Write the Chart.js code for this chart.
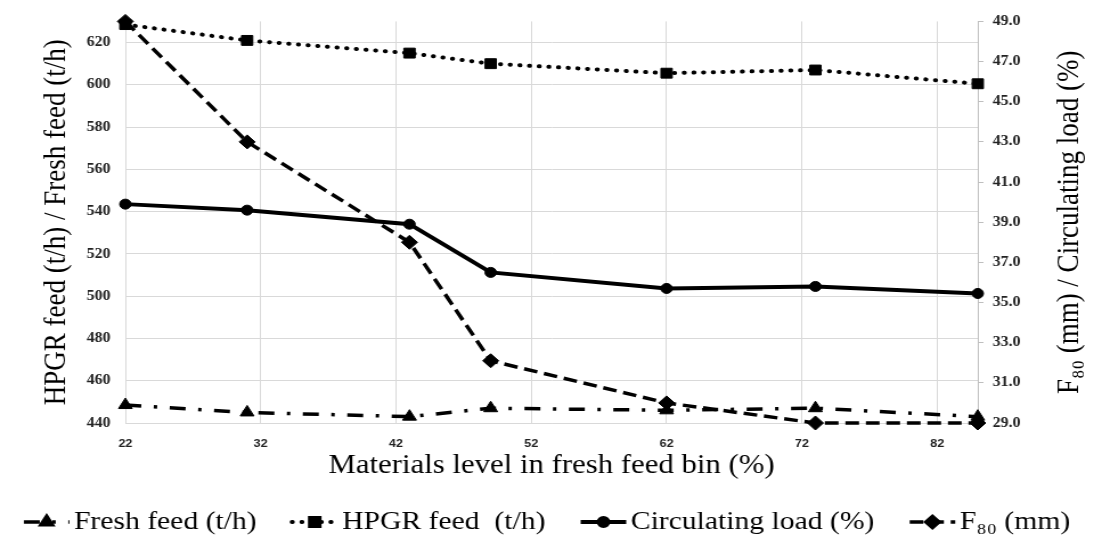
<!DOCTYPE html>
<html>
<head>
<meta charset="utf-8">
<script src="https://cdn.jsdelivr.net/npm/chart.js@4.4.1/dist/chart.umd.min.js"></script>
<style>
  html, body { margin: 0; background: #fff; overflow: hidden; }
  /* the source figure is a little wider than tall, so the canvas is stretched sideways */
  #chart { transform: scaleX(1.1396); transform-origin: 0 0; }
</style>
</head>
<body>
<canvas id="chart" width="960" height="541"></canvas>
<script>
const levels = [22, 31, 43, 49, 62, 73, 85];
const freshFeed = [448.5, 445, 443, 447, 446, 447, 443];
const hpgrFeed = [628.5, 621, 615, 610, 605.5, 607, 600.5];
const circulatingLoad = [39.9, 39.6, 38.9, 36.5, 35.7, 35.8, 35.45];
const f80 = [49.0, 43.0, 38.0, 32.1, 30.0, 29.0, 29.0];

const xTicks = [22, 32, 42, 52, 62, 72, 82];
const leftTicks = [440, 460, 480, 500, 520, 540, 560, 580, 600, 620];
const rightTicks = [29, 31, 33, 35, 37, 39, 41, 43, 45, 47, 49];

const serif = '"Liberation Serif", "Times New Roman", serif';
const grid = "#d9d9d9";
const rightTitleText = "F\u2088\u2080 (mm) / Circulating load (%)";

const toPoints = (ys) => levels.map((x, i) => ({ x, y: ys[i] }));

// short piece of a series line with its marker, used by the legend
function drawSample(ctx, ds, x, y, w) {
  ctx.save();
  ctx.strokeStyle = "#000";
  ctx.fillStyle = "#000";
  ctx.lineWidth = ds.borderWidth;
  ctx.lineCap = ds.borderCapStyle || "butt";
  ctx.setLineDash(ds.borderDash || []);
  ctx.beginPath();
  ctx.moveTo(x, y);
  ctx.lineTo(x + w, y);
  ctx.stroke();
  ctx.setLineDash([]);
  Chart.helpers.drawPoint(ctx, { pointStyle: ds.pointStyle, radius: ds.pointRadius * 0.8, borderWidth: 1 }, x + w / 2, y);
  ctx.restore();
}

const bottomLegend = {
  id: "bottomLegend",
  afterDraw(chart) {
    const { ctx } = chart;
    const sets = chart.data.datasets;
    const sampleW = 40, gapIn = 4, gapOut = 31;
    ctx.save();
    ctx.font = "26px " + serif;
    const widths = sets.map((d) => sampleW + gapIn + ctx.measureText(d.label).width);
    const total = widths.reduce((a, b) => a + b, 0) + gapOut * (sets.length - 1);
    let x = (chart.width - total) / 2;
    const y = chart.height - 19;
    sets.forEach((d, i) => {
      drawSample(ctx, d, x, y, sampleW);
      ctx.fillStyle = "#000";
      ctx.textAlign = "left";
      ctx.textBaseline = "middle";
      ctx.fillText(d.label, x + sampleW + gapIn, y);
      x += widths[i] + gapOut;
    });
    ctx.restore();
  },
};

const rightTitle = {
  id: "rightTitle",
  afterDraw(chart) {
    const { ctx, chartArea } = chart;
    ctx.save();
    ctx.translate(chart.width - 21, (chartArea.top + chartArea.bottom) / 2);
    ctx.rotate(-Math.PI / 2);
    ctx.font = "27px " + serif;
    ctx.fillStyle = "#000";
    ctx.textAlign = "center";
    ctx.textBaseline = "middle";
    ctx.fillText(rightTitleText, 0, 0);
    ctx.restore();
  },
};

const line = {
  borderColor: "#000",
  backgroundColor: "#000",
  pointBackgroundColor: "#000",
  pointBorderColor: "#000",
  pointBorderWidth: 1,
  tension: 0,
  fill: false,
  clip: false,
};

new Chart(document.getElementById("chart"), {
  type: "line",
  data: {
    datasets: [
      { ...line, label: "Fresh feed (t/h)", data: toPoints(freshFeed), yAxisID: "y",
        borderWidth: 3.5, borderDash: [14, 11, 3, 11], pointStyle: "triangle", pointRadius: 7 },
      { ...line, label: "HPGR feed  (t/h)", data: toPoints(hpgrFeed), yAxisID: "y",
        borderWidth: 4, borderDash: [0.5, 8], borderCapStyle: "round", pointStyle: "rect", pointRadius: 7 },
      { ...line, label: "Circulating load (%)", data: toPoints(circulatingLoad), yAxisID: "y1",
        borderWidth: 4, pointStyle: "circle", pointRadius: 5 },
      { ...line, label: "F\u2088\u2080 (mm)", data: toPoints(f80), yAxisID: "y1",
        borderWidth: 3.5, borderDash: [12, 6], pointStyle: "rectRot", pointRadius: 7 },
    ],
  },
  options: {
    responsive: false,
    animation: false,
    layout: { padding: { top: 17, left: 0, right: 0, bottom: 39 } },
    plugins: {
      tooltip: { enabled: false },
      legend: { display: false },
    },
    scales: {
      x: {
        type: "linear",
        min: 22,
        max: 85,
        afterBuildTicks(scale) { scale.ticks = xTicks.map((v) => ({ value: v })); },
        afterFit(scale) { scale.height = 79; },
        grid: { color: grid, drawTicks: false },
        border: { color: grid },
        ticks: { color: "#222", padding: 14, font: { family: '"Liberation Sans", sans-serif', size: 11, weight: "bold" } },
        title: {
          display: true,
          text: "Materials level in fresh feed bin (%)",
          color: "#000",
          font: { family: serif, size: 27 },
          padding: { top: 0, bottom: 20 },
        },
      },
      y: {
        position: "left",
        min: 440,
        max: 630,
        afterBuildTicks(scale) { scale.ticks = leftTicks.map((v) => ({ value: v })); },
        afterFit(scale) { scale.width = 110; },
        grid: { color: grid, drawTicks: false },
        border: { color: grid },
        ticks: { color: "#222", padding: 13, font: { family: serif, size: 14, weight: "bold" } },
        title: {
          display: true,
          text: "HPGR feed (t/h) / Fresh feed (t/h)",
          color: "#000",
          font: { family: serif, size: 27 },
          padding: { top: 34, bottom: 0 },
        },
      },
      y1: {
        position: "right",
        min: 29,
        max: 49,
        afterBuildTicks(scale) { scale.ticks = rightTicks.map((v) => ({ value: v })); },
        afterFit(scale) { scale.width = 102; },
        grid: { drawOnChartArea: false, color: "#bfbfbf", tickLength: 5 },
        border: { color: "#bfbfbf" },
        ticks: {
          color: "#222",
          padding: 8,
          font: { family: serif, size: 14, weight: "bold" },
          callback: (v) => v.toFixed(1),
        },
      },
    },
  },
  plugins: [rightTitle, bottomLegend],
});
</script>
</body>
</html>
